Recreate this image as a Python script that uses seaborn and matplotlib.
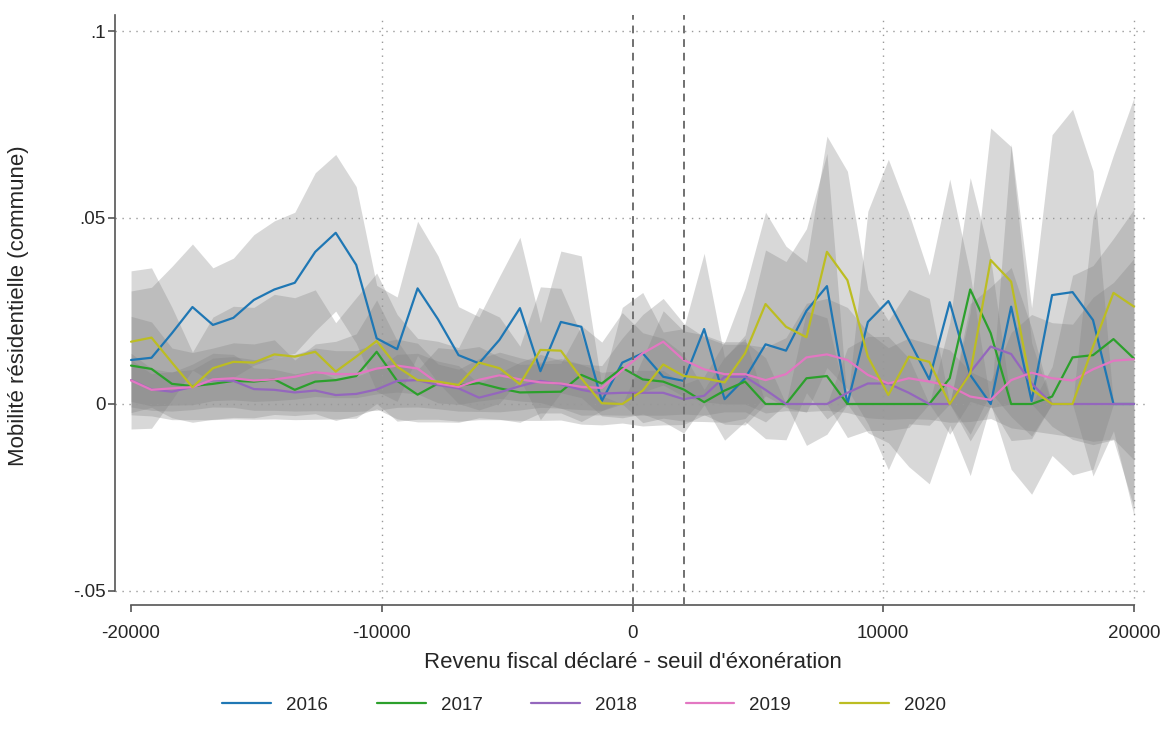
import numpy as np
import pandas as pd
import seaborn as sns
import matplotlib.pyplot as plt

# --------------------------------------------------
# DATA (50 bins between -20000 and 20000)
# --------------------------------------------------
years = ["2016", "2017", "2018", "2019", "2020"]
colors = ["#1f77b4", "#2ca02c", "#9467bd", "#e377c2", "#bcbd22"]
x_bins = np.linspace(-20000, 20000, 50)
threshold_2 = 2035

mean_2016 = [0.0118, 0.0124, 0.0190, 0.0260, 0.0212, 0.0231, 0.0279, 0.0307, 0.0325, 0.0408,
             0.0459, 0.0373, 0.0176, 0.0147, 0.0310, 0.0227, 0.0131, 0.0109, 0.0172, 0.0257,
             0.0088, 0.0220, 0.0207, 0.0008, 0.0111, 0.0136, 0.0073, 0.0062, 0.0201, 0.0013,
             0.0069, 0.0160, 0.0143, 0.0250, 0.0316, 0.0000, 0.0220, 0.0276, 0.0172, 0.0066,
             0.0273, 0.0078, 0.0000, 0.0261, 0.0008, 0.0292, 0.0300, 0.0225, 0.0000, 0.0000]
mean_2017 = [0.0103, 0.0094, 0.0054, 0.0048, 0.0054, 0.0062, 0.0060, 0.0066, 0.0038, 0.0060,
             0.0064, 0.0075, 0.0140, 0.0062, 0.0025, 0.0055, 0.0050, 0.0056, 0.0042, 0.0031,
             0.0032, 0.0033, 0.0078, 0.0055, 0.0097, 0.0066, 0.0060, 0.0039, 0.0005, 0.0036,
             0.0060, 0.0000, 0.0000, 0.0069, 0.0075, 0.0000, 0.0000, 0.0000, 0.0000, 0.0000,
             0.0069, 0.0307, 0.0190, 0.0000, 0.0000, 0.0020, 0.0125, 0.0131, 0.0174, 0.0122]
mean_2018 = [0.0064, 0.0039, 0.0033, 0.0046, 0.0064, 0.0062, 0.0040, 0.0038, 0.0031, 0.0036,
             0.0024, 0.0027, 0.0039, 0.0062, 0.0064, 0.0051, 0.0042, 0.0017, 0.0031, 0.0048,
             0.0062, 0.0053, 0.0038, 0.0028, 0.0030, 0.0030, 0.0030, 0.0013, 0.0022, 0.0073,
             0.0073, 0.0038, 0.0000, 0.0000, 0.0000, 0.0030, 0.0055, 0.0055, 0.0030, 0.0000,
             0.0000, 0.0085, 0.0154, 0.0134, 0.0055, 0.0000, 0.0000, 0.0000, 0.0000, 0.0000]
mean_2019 = [0.0063, 0.0038, 0.0042, 0.0045, 0.0066, 0.0069, 0.0063, 0.0066, 0.0073, 0.0085,
             0.0080, 0.0080, 0.0095, 0.0103, 0.0095, 0.0055, 0.0046, 0.0065, 0.0077, 0.0066,
             0.0058, 0.0055, 0.0046, 0.0043, 0.0091, 0.0136, 0.0167, 0.0118, 0.0093, 0.0080,
             0.0080, 0.0064, 0.0080, 0.0125, 0.0133, 0.0118, 0.0078, 0.0055, 0.0069, 0.0060,
             0.0048, 0.0020, 0.0011, 0.0064, 0.0084, 0.0069, 0.0063, 0.0093, 0.0116, 0.0120]
mean_2020 = [0.0167, 0.0178, 0.0111, 0.0045, 0.0096, 0.0113, 0.0111, 0.0133, 0.0127, 0.0140,
             0.0087, 0.0127, 0.0169, 0.0100, 0.0064, 0.0060, 0.0051, 0.0111, 0.0096, 0.0053,
             0.0145, 0.0143, 0.0069, 0.0002, 0.0000, 0.0036, 0.0106, 0.0075, 0.0069, 0.0058,
             0.0136, 0.0268, 0.0207, 0.0179, 0.0408, 0.0332, 0.0127, 0.0024, 0.0127, 0.0113,
             0.0000, 0.0082, 0.0386, 0.0328, 0.0039, 0.0000, 0.0000, 0.0154, 0.0298, 0.0261]

# half-width of the 95% confidence interval
ci_2016 = [0.0185, 0.0189, 0.0179, 0.0169, 0.0153, 0.0160, 0.0175, 0.0184, 0.0189, 0.0212,
           0.0210, 0.0210, 0.0142, 0.0140, 0.0180, 0.0170, 0.0130, 0.0125, 0.0170, 0.0190,
           0.0130, 0.0190, 0.0190, 0.0040, 0.0148, 0.0163, 0.0120, 0.0140, 0.0203, 0.0110,
           0.0116, 0.0253, 0.0239, 0.0220, 0.0356, 0.0000, 0.0297, 0.0380, 0.0340, 0.0280,
           0.0330, 0.0270, 0.0000, 0.0436, 0.0250, 0.0430, 0.0490, 0.0400, 0.0000, 0.0000]
ci_2017 = [0.0132, 0.0126, 0.0096, 0.0090, 0.0096, 0.0102, 0.0101, 0.0106, 0.0080, 0.0101,
           0.0104, 0.0113, 0.0139, 0.0108, 0.0066, 0.0096, 0.0096, 0.0098, 0.0084, 0.0075,
           0.0076, 0.0076, 0.0132, 0.0111, 0.0148, 0.0125, 0.0116, 0.0094, 0.0034, 0.0090,
           0.0116, 0.0000, 0.0000, 0.0180, 0.0156, 0.0000, 0.0000, 0.0000, 0.0000, 0.0000,
           0.0150, 0.0300, 0.0200, 0.0000, 0.0000, 0.0080, 0.0220, 0.0240, 0.0270, 0.0400]
ci_2018 = [0.0072, 0.0056, 0.0052, 0.0061, 0.0072, 0.0071, 0.0057, 0.0055, 0.0050, 0.0054,
           0.0044, 0.0047, 0.0056, 0.0071, 0.0072, 0.0064, 0.0061, 0.0037, 0.0052, 0.0064,
           0.0071, 0.0064, 0.0068, 0.0057, 0.0060, 0.0060, 0.0060, 0.0040, 0.0052, 0.0094,
           0.0094, 0.0086, 0.0000, 0.0000, 0.0000, 0.0120, 0.0126, 0.0126, 0.0093, 0.0000,
           0.0000, 0.0184, 0.0160, 0.0232, 0.0148, 0.0000, 0.0000, 0.0000, 0.0000, 0.0000]
ci_2019 = [0.0056, 0.0043, 0.0045, 0.0047, 0.0057, 0.0058, 0.0056, 0.0057, 0.0060, 0.0065,
           0.0063, 0.0063, 0.0068, 0.0071, 0.0068, 0.0052, 0.0047, 0.0057, 0.0062, 0.0058,
           0.0054, 0.0067, 0.0061, 0.0060, 0.0086, 0.0104, 0.0116, 0.0098, 0.0087, 0.0080,
           0.0080, 0.0088, 0.0098, 0.0145, 0.0150, 0.0141, 0.0115, 0.0096, 0.0108, 0.0101,
           0.0097, 0.0067, 0.0050, 0.0128, 0.0156, 0.0149, 0.0151, 0.0193, 0.0210, 0.0270]
ci_2020 = [0.0190, 0.0187, 0.0148, 0.0094, 0.0137, 0.0149, 0.0148, 0.0161, 0.0158, 0.0166,
           0.0131, 0.0158, 0.0182, 0.0140, 0.0112, 0.0108, 0.0100, 0.0148, 0.0137, 0.0102,
           0.0169, 0.0167, 0.0116, 0.0020, 0.0000, 0.0086, 0.0144, 0.0121, 0.0116, 0.0107,
           0.0175, 0.0246, 0.0216, 0.0201, 0.0310, 0.0292, 0.0180, 0.0200, 0.0180, 0.0170,
           0.0000, 0.0163, 0.0354, 0.0362, 0.0125, 0.0000, 0.0000, 0.0347, 0.0370, 0.0560]

means = [mean_2016, mean_2017, mean_2018, mean_2019, mean_2020]
cis = [ci_2016, ci_2017, ci_2018, ci_2019, ci_2020]

df = pd.concat([
    pd.DataFrame({"x": x_bins, "y": m, "ci": c, "year": yr})
    for m, c, yr in zip(means, cis, years)
], ignore_index=True)
df["lo"] = df["y"] - df["ci"]
df["hi"] = df["y"] + df["ci"]

# --------------------------------------------------
# PLOT
# --------------------------------------------------
sns.set_style("white")
plt.rcParams["font.family"] = ["Liberation Sans", "DejaVu Sans"]

fig = plt.figure(figsize=(11.68, 7.42), dpi=100)
ax = fig.add_axes([115 / 1168, 1 - 605 / 742, 1035 / 1168, 590 / 742])

# confidence bands (drawn first, overlapping grey)
for yr in years:
    d = df[df["year"] == yr]
    ax.fill_between(d["x"], d["lo"], d["hi"], color="#808080", alpha=0.3,
                    linewidth=0, zorder=1)

sns.lineplot(data=df, x="x", y="y", hue="year", palette=colors,
             linewidth=1.6, ax=ax, zorder=3, estimator=None)

# thresholds
ax.axvline(0, color="#707070", linestyle=(0, (4, 3)), linewidth=1.4, zorder=4)
ax.axvline(threshold_2, color="#707070", linestyle=(0, (4, 3)), linewidth=1.4, zorder=4)

# grid
for v in [-0.05, 0, 0.05, 0.1]:
    ax.axhline(v, color="#999999", linestyle=(0, (1, 4)), linewidth=1.0, zorder=2)
for v in [-10000, 10000, 20000]:
    ax.axvline(v, color="#999999", linestyle=(0, (1, 4)), linewidth=1.0, zorder=2)

y_top = (404 - 15) / 3730
ax.set_xlim(-20640, 20640)
ax.set_ylim((404 - 605) / 3730, y_top)

ax.set_xticks([-20000, -10000, 0, 10000, 20000])
ax.set_xticklabels(["-20000", "-10000", "0", "10000", "20000"])
ax.set_yticks([-0.05, 0, 0.05, 0.1])
ax.set_yticklabels(["-.05", "0", ".05", ".1"])
ax.tick_params(axis="both", direction="out", length=5, width=1.2, color="#555555",
               labelsize=13.5, bottom=True, left=True)
ax.tick_params(axis="x", pad=9.5)
ax.tick_params(axis="y", pad=1.5)

for s in ["top", "right"]:
    ax.spines[s].set_visible(False)
for s in ["left", "bottom"]:
    ax.spines[s].set_color("#555555")
    ax.spines[s].set_linewidth(1.2)
ax.spines["bottom"].set_bounds(-20000, 20000)
ax.spines["left"].set_bounds(-0.05, y_top)

ax.set_xlabel("Revenu fiscal déclaré - seuil d'éxonération", fontsize=16)
ax.set_ylabel("Mobilité résidentielle (commune)", fontsize=16)
ax.xaxis.set_label_coords(0.5, (605 - 652) / 590)
ax.yaxis.set_label_coords((29 - 115) / 1035, 0.508)

handles, labels = ax.get_legend_handles_labels()
ax.legend(handles, labels, loc="center", bbox_to_anchor=(0.5, 1 - 705 / 742),
          bbox_transform=fig.transFigure, ncol=5, frameon=False, fontsize=13.5,
          handlelength=2.6, columnspacing=2.6)

fig.savefig("out.png", dpi=100)
